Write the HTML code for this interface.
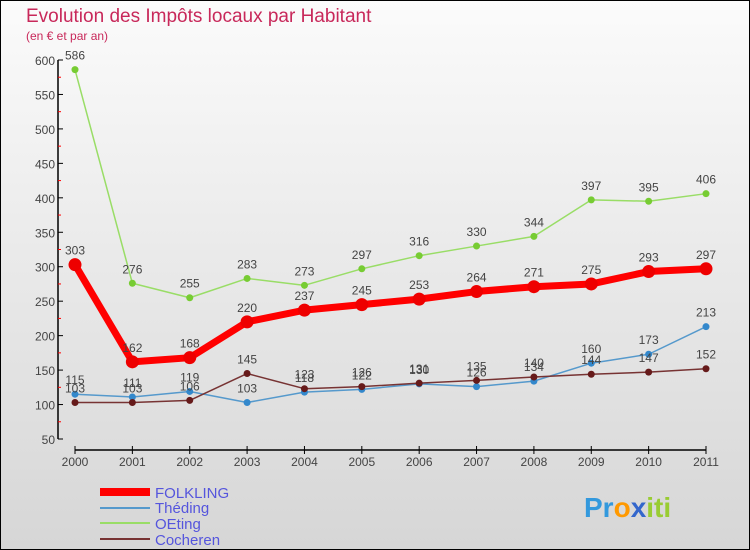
<!DOCTYPE html>
<html><head><meta charset="utf-8"><style>
body{margin:0;}
svg{display:block;font-family:"Liberation Sans",sans-serif;}
</style></head><body>
<svg id="c" width="750" height="550">
<defs><linearGradient id="bg" x1="0" y1="0" x2="0" y2="1"><stop offset="0" stop-color="#fbfbfb"/><stop offset="1" stop-color="#d6d6d6"/></linearGradient></defs>
<rect x="0.5" y="0.5" width="749" height="549" fill="url(#bg)" stroke="#000"/>
<text x="26" y="22" font-size="19" fill="#c8285a">Evolution des Impôts locaux par Habitant</text>
<text x="26" y="40" font-size="12" fill="#c8285a">(en € et par an)</text>
<g id="axes"></g><g id="series"></g>
<g>
<line x1="100" y1="492" x2="150" y2="492" stroke="#ff0000" stroke-width="8"/>
<text x="155" y="498" font-size="15" fill="#5555dd">FOLKLING</text>
<line x1="100" y1="508" x2="150" y2="508" stroke="#5599cc" stroke-width="2"/>
<text x="155" y="513" font-size="15" fill="#5555dd">Théding</text>
<line x1="100" y1="523" x2="150" y2="523" stroke="#99dd66" stroke-width="2"/>
<text x="155" y="529" font-size="15" fill="#5555dd">OEting</text>
<line x1="100" y1="539" x2="150" y2="539" stroke="#773333" stroke-width="2"/>
<text x="155" y="545" font-size="15" fill="#5555dd">Cocheren</text>
</g>
<text x="584" y="517" font-size="28" font-weight="bold"><tspan fill="#3399dd">Pr</tspan><tspan fill="#ff9900">o</tspan><tspan fill="#3366cc">x</tspan><tspan fill="#99cc33">iti</tspan></text>
</svg>
<script>
const years=["2000","2001","2002","2003","2004","2005","2006","2007","2008","2009","2010","2011"];
const yTicks=[50,100,150,200,250,300,350,400,450,500,550,600];
const folkling=[303,162,168,220,237,245,253,264,271,275,293,297];
const theding=[115,111,119,103,118,122,130,126,134,160,173,213];
const oeting=[586,276,255,283,273,297,316,330,344,397,395,406];
const cocheren=[103,103,106,145,123,126,131,135,140,144,147,152];
const NS="http://www.w3.org/2000/svg";
const X=i=>75+i*(706-75)/11, Y=v=>439-(v-50)*(439-60)/550;
function mk(t,a,p){const e=document.createElementNS(NS,t);for(const k in a)e.setAttribute(k,a[k]);p.appendChild(e);return e;}
const ax=document.getElementById('axes');
let l=mk('line',{x1:58,y1:Y(600),x2:58,y2:Y(50),stroke:'#000','stroke-width':1.5},ax);


l=mk('line',{x1:X(0),y1:450,x2:X(11),y2:450,stroke:'#000','stroke-width':1.5},ax);


yTicks.forEach((v,i)=>{mk('line',{x1:58,y1:Y(v),x2:63,y2:Y(v),stroke:'#000'},ax);
 if(i<yTicks.length-1)mk('line',{x1:58,y1:Y(v+25),x2:61,y2:Y(v+25),stroke:'#f00'},ax);
 const t=mk('text',{x:55,y:Y(v)+5,'text-anchor':'end','font-size':12,fill:'#444'},ax);t.textContent=v;
 
 });
years.forEach((y,i)=>{mk('line',{x1:X(i),y1:446,x2:X(i),y2:454,stroke:'#000'},ax);
 const t=mk('text',{x:X(i),y:466,'text-anchor':'middle','font-size':12,fill:'#444'},ax);t.textContent=y;
 
 });
const sg=document.getElementById('series');
function series(vals,name,color,w,r,dot){
 const g=mk('g',{},sg);
 
 
 mk('polyline',{points:vals.map((v,i)=>X(i)+','+Y(v)).join(' '),fill:'none',stroke:color,'stroke-width':w,'stroke-linejoin':'round'},g);
 vals.forEach((v,i)=>{const c=mk('circle',{cx:X(i),cy:Y(v),r:r,fill:dot},g);
  
  
  const t=mk('text',{x:X(i),y:Y(v)-10,'text-anchor':'middle','font-size':12,fill:'#444'},g);t.textContent=v;});
}
series(oeting,'oeting','#99dd66',1.5,3.5,'#77cc33');
series(theding,'theding','#5599cc',1.5,3.5,'#3388cc');
series(cocheren,'cocheren','#773333',1.5,3.5,'#661a1a');
series(folkling,'folkling','#ff0000',7,6.5,'#ee0000');
</script>
</body></html>
